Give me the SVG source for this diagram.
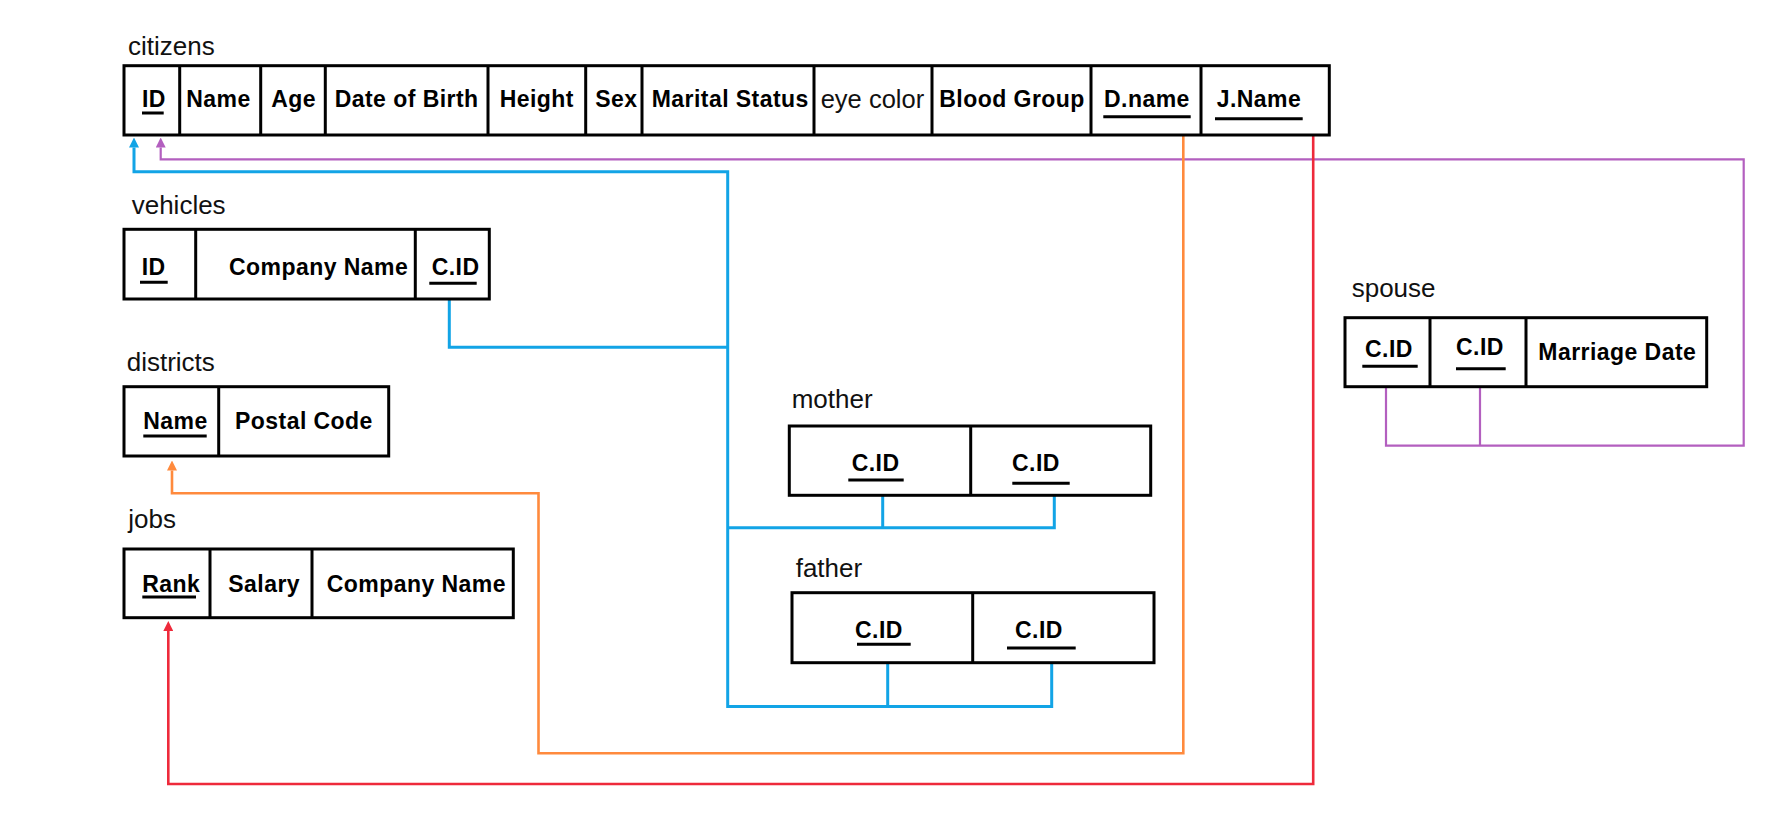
<svg xmlns="http://www.w3.org/2000/svg" width="1773" height="835" viewBox="0 0 1773 835">
<style>
.tbl{fill:#fff;stroke:#000;stroke-width:3}
.div{stroke:#000;stroke-width:3}
.ul{stroke:#000;stroke-width:3}
.lbl{font-family:"Liberation Sans",Arial,sans-serif;font-size:26px;fill:#111}
.f{font-family:"Liberation Sans",Arial,sans-serif;font-size:23px;font-weight:bold;fill:#000;letter-spacing:0.45px}
.fn{font-family:"Liberation Sans",Arial,sans-serif;font-size:25.5px;fill:#111}
.c{fill:none;stroke-linejoin:miter}
.blue{stroke:#12a4e6;stroke-width:3}
.purple{stroke:#b35fbf;stroke-width:2.2}
.orange{stroke:#ff8a3d;stroke-width:2.6}
.red{stroke:#ee2a3b;stroke-width:2.6}
</style>
<defs>
<marker id="ab" markerUnits="userSpaceOnUse" markerWidth="10" markerHeight="10" refX="0" refY="5" orient="auto"><path d="M0,0 L10,5 L0,10 z" fill="#12a4e6"/></marker>
<marker id="ap" markerUnits="userSpaceOnUse" markerWidth="10" markerHeight="10" refX="0" refY="5" orient="auto"><path d="M0,0 L10,5 L0,10 z" fill="#b35fbf"/></marker>
<marker id="ao" markerUnits="userSpaceOnUse" markerWidth="10" markerHeight="10" refX="0" refY="5" orient="auto"><path d="M0,0 L10,5 L0,10 z" fill="#ff8a3d"/></marker>
<marker id="ar" markerUnits="userSpaceOnUse" markerWidth="10" markerHeight="10" refX="0" refY="5" orient="auto"><path d="M0,0 L10,5 L0,10 z" fill="#ee2a3b"/></marker>
</defs>
<rect width="1773" height="835" fill="#fff"/>

<g id="connectors">
<path class="c blue" d="M1051.7,662.7 V706.5 H727.7 V171.7 H134 V147.5" marker-end="url(#ab)"/>
<path class="c blue" d="M887.7,662.7 V706.5"/>
<path class="c blue" d="M727.7,527.7 H1054.3 V495.3 M882.7,495.3 V527.7"/>
<path class="c blue" d="M449.3,299 V347.3 H727.7"/>
<path class="c purple" d="M1386,386.7 V445.7 H1743.7 V159.3 H160.7 V147.5" marker-end="url(#ap)"/>
<path class="c purple" d="M1480,386.7 V445.7"/>
<path class="c orange" d="M1183.3,135 V753.3 H538.5 V493.3 H172 V470.5" marker-end="url(#ao)"/>
<path class="c red" d="M1313.2,135 V784 H168.3 V631" marker-end="url(#ar)"/>
</g>

<g id="citizens">
<text class="lbl" x="128" y="54.5">citizens</text>
<rect class="tbl" x="124" y="65.7" width="1205.3" height="69.3"/>
<path class="div" d="M179.7,65.7V135M260.7,65.7V135M325.3,65.7V135M488,65.7V135M585.7,65.7V135M642,65.7V135M814,65.7V135M932,65.7V135M1091,65.7V135M1201,65.7V135"/>
<text class="f" x="142" y="107">ID</text>
<text class="f" x="186.3" y="107">Name</text>
<text class="f" x="271.3" y="107">Age</text>
<text class="f" x="334.7" y="107">Date of Birth</text>
<text class="f" x="499.7" y="107">Height</text>
<text class="f" x="595.3" y="107">Sex</text>
<text class="f" x="651.7" y="107">Marital Status</text>
<text class="fn" x="820.7" y="108">eye color</text>
<text class="f" x="939.3" y="107">Blood Group</text>
<text class="f" x="1104" y="107">D.name</text>
<text class="f" x="1216.7" y="107">J.Name</text>
<path class="ul" d="M142,113H163.7M1103.3,116.7H1190.7M1215,118.7H1302.7"/>
</g>

<g id="vehicles">
<text class="lbl" x="131.7" y="214">vehicles</text>
<rect class="tbl" x="124" y="229.3" width="365.3" height="69.7"/>
<path class="div" d="M195.7,229.3V299M415.3,229.3V299"/>
<text class="f" x="141.7" y="274.5">ID</text>
<text class="f" x="229" y="274.5">Company Name</text>
<text class="f" x="431.7" y="274.5">C.ID</text>
<path class="ul" d="M140,282.3H167.7M429.3,283.3H476.7"/>
</g>

<g id="districts">
<text class="lbl" x="126.7" y="370.7">districts</text>
<rect class="tbl" x="124" y="386.7" width="264.7" height="69.3"/>
<path class="div" d="M218.7,386.7V456"/>
<text class="f" x="143.3" y="429.3">Name</text>
<text class="f" x="235" y="429.3">Postal Code</text>
<path class="ul" d="M143.3,436H206.7"/>
</g>

<g id="jobs">
<text class="lbl" x="128.3" y="528.3">jobs</text>
<rect class="tbl" x="124" y="549" width="389.3" height="68.7"/>
<path class="div" d="M210,549V617.7M312,549V617.7"/>
<text class="f" x="142.3" y="591.5">Rank</text>
<text class="f" x="228.3" y="591.5">Salary</text>
<text class="f" x="326.7" y="591.5">Company Name</text>
<path class="ul" d="M142.3,597H196"/>
</g>

<g id="mother">
<text class="lbl" x="791.7" y="408.3">mother</text>
<rect class="tbl" x="789.3" y="426" width="361.4" height="69.3"/>
<path class="div" d="M970.7,426V495.3"/>
<text class="f" x="851.7" y="471">C.ID</text>
<text class="f" x="1012" y="471">C.ID</text>
<path class="ul" d="M848.3,480H903.7M1012.3,483.3H1069.7"/>
</g>

<g id="father">
<text class="lbl" x="795.7" y="576.7">father</text>
<rect class="tbl" x="792" y="592.7" width="362" height="70"/>
<path class="div" d="M972.7,592.7V662.7"/>
<text class="f" x="855" y="638.3">C.ID</text>
<text class="f" x="1015" y="638.3">C.ID</text>
<path class="ul" d="M857,644.3H910.7M1007,648H1075.7"/>
</g>

<g id="spouse">
<text class="lbl" x="1351.7" y="296.7">spouse</text>
<rect class="tbl" x="1345" y="317.7" width="361.7" height="69"/>
<path class="div" d="M1430,317.7V386.7M1526,317.7V386.7"/>
<text class="f" x="1365" y="357">C.ID</text>
<text class="f" x="1456" y="355">C.ID</text>
<text class="f" x="1538.3" y="360">Marriage Date</text>
<path class="ul" d="M1362.3,366.3H1417.7M1456,368.7H1505.7"/>
</g>
</svg>
